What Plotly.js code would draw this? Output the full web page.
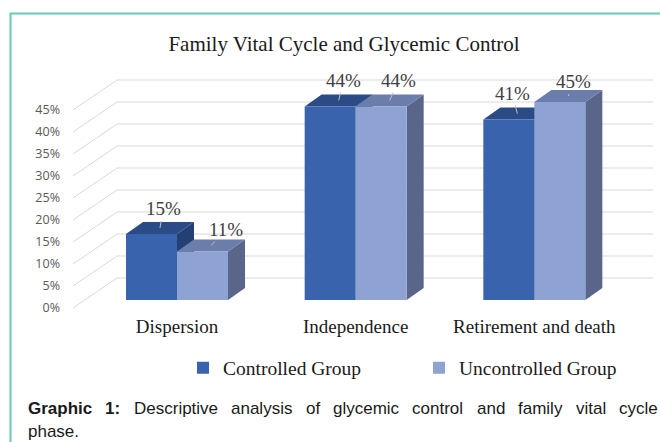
<!DOCTYPE html>
<html><head><meta charset="utf-8">
<script src="https://cdn.plot.ly/plotly-3.0.1.min.js"></script>
<style>html,body{margin:0;padding:0;background:#fff}#chart{width:660px;height:442px}</style>
</head><body><div id="chart"></div>
<script>
// ---- data ----
const categories = ['Dispersion', 'Independence', 'Retirement and death'];
const seriesNames = ['Controlled Group', 'Uncontrolled Group'];
const controlled = [15, 44, 41];
const uncontrolled = [11, 44, 45];
const yTickValues = [0, 5, 10, 15, 20, 25, 30, 35, 40, 45];
const yTickLabels = ['0%', '5%', '10%', '15%', '20%', '25%', '30%', '35%', '40%', '45%'];
const chartTitle = 'Family Vital Cycle and Glycemic Control';
const captionBold = ['Graphic', '1:'];
const captionLine1 = ['Descriptive', 'analysis', 'of', 'glycemic', 'control', 'and', 'family', 'vital', 'cycle'];
const captionLine2 = 'phase.';

// ---- geometry / style ----
const W = 660, H = 442;
const PX = 4.4;                 // pixels per percentage point
const xL = 117, xR = 653;       // back wall horizontal extent (px)
const catPx = (xR - xL) / 3;
const firstCenterPx = 177;
const xr0 = -(firstCenterPx - xL) / catPx;
const barW = 51 / catPx;
const dX = 17 / catPx, dY = 12 / PX;   // 3D depth offsets
const fx = p => p / W, fy = p => 1 - p / H;
const wallZero = 278, wallMin = -8, wallMax = 46;
const barZero = 300, barMax = 50;
const labelDrop = 30;
const front = ['#3a63ad', '#8fa2d4'];
const topC = ['#2b4b86', '#6b7dab'];
const sideC = ['#233f73', '#5a6689'];
const gridC = '#d9d9d9';
const serif = 'Liberation Serif, Times New Roman, serif';
const series = [controlled, uncontrolled];
const labelOffsets = [[[3, -19], [5, -20], [-5, -20]], [[15, -16], [9, -20], [5, -14]]];

const traces = [{type: 'scatter', x: [], y: [], xaxis: 'x', yaxis: 'y', showlegend: false, hoverinfo: 'skip'}];
series.forEach((vals, s) => traces.push({
  type: 'bar', name: seriesNames[s], x: categories, y: vals, xaxis: 'x', yaxis: 'y2',
  marker: {color: front[s], line: {width: 0}}, hoverinfo: 'skip'
}));

const shapes = [];
// back-wall gridlines and diagonal floor-to-wall connectors
yTickValues.forEach(v => {
  shapes.push({type: 'line', xref: 'paper', yref: 'y', layer: 'below',
    x0: fx(xL), y0: v, x1: fx(xR), y1: v, line: {color: gridC, width: 1}});
  shapes.push({type: 'line', xref: 'paper', yref: 'y', layer: 'below',
    x0: fx(73), y0: v - labelDrop / PX, x1: fx(xL), y1: v, line: {color: gridC, width: 1}});
});
// 3D top and side faces
series.forEach((vals, s) => vals.forEach((v, i) => {
  const xl = i + (s === 0 ? -barW : 0), xr = xl + barW;
  shapes.push({type: 'path', xref: 'x', yref: 'y2', layer: 'below', line: {width: 0}, fillcolor: sideC[s],
    path: `M${xr},0 L${xr},${v} L${xr + dX},${v + dY} L${xr + dX},${dY} Z`});
  shapes.push({type: 'path', xref: 'x', yref: 'y2', layer: 'below', line: {width: 0}, fillcolor: topC[s],
    path: `M${xl},${v} L${xr},${v} L${xr + dX},${v + dY} L${xl + dX},${v + dY} Z`});
}));
// page frame
shapes.push({type: 'path', xref: 'paper', yref: 'paper', layer: 'above', line: {color: '#62ccb6', width: 2},
  path: `M${fx(10.5)},0 L${fx(10.5)},${fy(13.5)} L1,${fy(13.5)}`});

const annotations = [];
series.forEach((vals, s) => vals.forEach((v, i) => {
  const xc = i + (s === 0 ? -barW / 2 : barW / 2) + dX / 2;
  annotations.push({xref: 'x', yref: 'y2', x: xc, y: v + dY / 2, text: v + '%',
    showarrow: true, arrowhead: 0, arrowwidth: 1, arrowcolor: '#bfbfbf', standoff: 0,
    ax: labelOffsets[s][i][0], ay: labelOffsets[s][i][1],
    font: {family: serif, size: 19, color: '#404040'}});
}));
// caption (justified first line)
const ctx = document.createElement('canvas').getContext('2d');
const capSize = 17;
function tw(t, b) { ctx.font = (b ? 'bold ' : '') + capSize + 'px "Liberation Sans"'; return ctx.measureText(t).width; }
const words = captionBold.map(t => ({t, b: true})).concat(captionLine1.map(t => ({t, b: false})));
const total = words.reduce((a, w) => a + tw(w.t, w.b), 0);
const gap = (657 - 27 - total) / (words.length - 1);
let pos = 27;
words.forEach(w => {
  annotations.push({xref: 'paper', yref: 'paper', x: fx(pos), y: fy(408.5), xanchor: 'left', yanchor: 'middle',
    showarrow: false, borderpad: 0, text: w.b ? '<b>' + w.t + '</b>' : w.t,
    font: {family: 'Liberation Sans, Arial, sans-serif', size: capSize, color: '#1a1a1a'}});
  pos += tw(w.t, w.b) + gap;
});
annotations.push({xref: 'paper', yref: 'paper', x: fx(27), y: fy(431), xanchor: 'left', yanchor: 'middle',
  showarrow: false, borderpad: 0, text: captionLine2,
  font: {family: 'Liberation Sans, Arial, sans-serif', size: capSize, color: '#1a1a1a'}});

const layout = {
  width: W, height: H, margin: {l: 0, r: 0, t: 0, b: 0, autoexpand: false},
  paper_bgcolor: '#ffffff', plot_bgcolor: 'rgba(0,0,0,0)',
  barmode: 'group', bargap: 1 - 2 * barW, bargroupgap: 0,
  title: {text: chartTitle, font: {family: serif, size: 21, color: '#1a1a1a'},
    x: fx(344), xanchor: 'center', y: fy(44), yanchor: 'middle', xref: 'paper', yref: 'paper'},
  xaxis: {domain: [fx(xL), fx(xR)], range: [xr0, xr0 + 3], type: 'category', anchor: 'free', position: fy(313),
    showline: false, showgrid: false, zeroline: false, ticks: '',
    tickfont: {family: serif, size: 19, color: '#1a1a1a'}, fixedrange: true},
  yaxis: {domain: [fy(wallZero - wallMin * PX), fy(wallZero - wallMax * PX)], range: [wallMin, wallMax], anchor: 'x',
    tickvals: yTickValues, ticktext: yTickLabels, showgrid: false,
    zeroline: false, showline: false, ticks: '', ticklabelstandoff: 56, ticklabelshift: labelDrop,
    tickfont: {family: 'Open Sans, sans-serif', size: 12.5, color: '#595959'}, fixedrange: true},
  yaxis2: {domain: [fy(barZero), fy(barZero - barMax * PX)], range: [0, barMax], anchor: 'x', visible: false, fixedrange: true},
  showlegend: true,
  legend: {orientation: 'h', x: fx(183), xanchor: 'left', y: fy(368), yanchor: 'middle',
    entrywidth: 191, entrywidthmode: 'pixels', traceorder: 'normal',
    font: {family: serif, size: 19.5, color: '#1a1a1a'}, bgcolor: 'rgba(0,0,0,0)'},
  shapes, annotations
};
Plotly.newPlot('chart', traces, layout, {staticPlot: true, displayModeBar: false});
</script></body></html>
